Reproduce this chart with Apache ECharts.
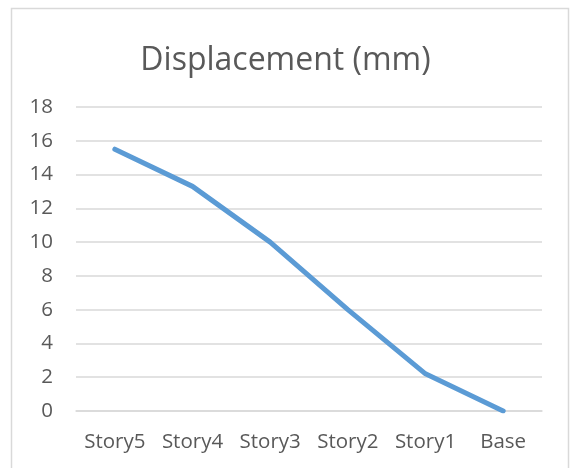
<!DOCTYPE html>
<html>
<head>
<meta charset="utf-8">
<script src="https://cdn.jsdelivr.net/npm/echarts@6/dist/echarts.min.js"></script>
<style>
html,body{margin:0;padding:0;background:#fff;}
#c{width:571px;height:468px;}
</style>
</head>
<body>
<div id="c"></div>
<script>
const categories = ['Story5', 'Story4', 'Story3', 'Story2', 'Story1', 'Base'];
const displacement = [15.5, 13.3, 10.0, 6.0, 2.2, 0];
const yTicks = { min: 0, max: 18, interval: 2 };

const chart = echarts.init(document.getElementById('c'), null, { renderer: 'canvas' });
chart.setOption({
  backgroundColor: '#ffffff',
  animation: false,
  title: {
    text: 'Displacement (mm)',
    left: 'center',
    top: 40,
    textStyle: { fontFamily: 'Open Sans', fontSize: 32, fontWeight: 'normal', color: '#595959' }
  },
  graphic: [{
    type: 'rect',
    shape: { x: 11.5, y: 8.5, width: 557, height: 520 },
    style: { fill: 'none', stroke: '#d9d9d9', lineWidth: 1.5 },
    silent: true
  }],
  grid: { left: 76, right: 29, top: 107, bottom: 57, containLabel: false },
  xAxis: {
    type: 'category',
    data: categories,
    boundaryGap: true,
    axisLine: { show: true, lineStyle: { color: '#d9d9d9', width: 1.5 } },
    axisTick: { show: false },
    axisLabel: { fontFamily: 'Open Sans', fontSize: 20.5, color: '#595959', margin: 21, interval: 0 }
  },
  yAxis: {
    type: 'value',
    min: yTicks.min,
    max: yTicks.max,
    interval: yTicks.interval,
    axisLine: { show: false },
    axisTick: { show: false },
    splitLine: { show: true, lineStyle: { color: '#d9d9d9', width: 1.5 } },
    axisLabel: { fontFamily: 'Open Sans', fontSize: 20.5, color: '#595959', margin: 23 }
  },
  series: [{
    type: 'line',
    data: displacement,
    symbol: 'none',
    lineStyle: { color: '#5b9bd5', width: 5, cap: 'round', join: 'round' },
    itemStyle: { color: '#5b9bd5' }
  }]
});
</script>
</body>
</html>
